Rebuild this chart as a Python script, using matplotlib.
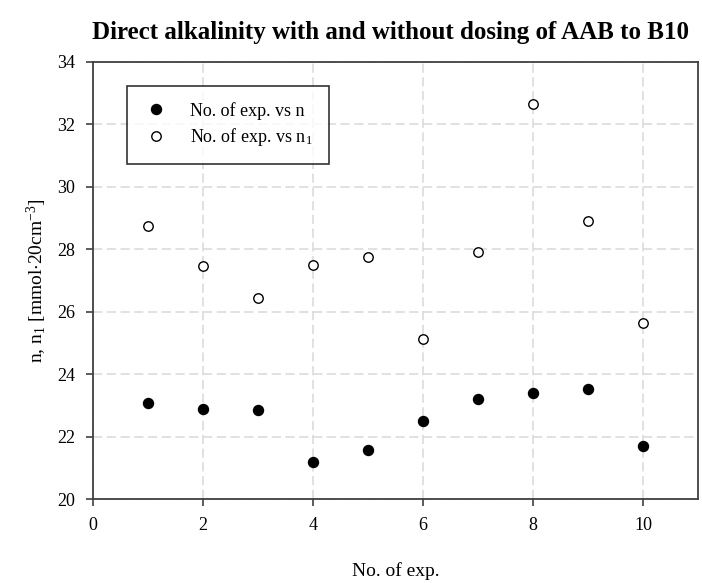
import matplotlib
matplotlib.use("Agg")
import matplotlib.pyplot as plt

# data
exp_no = [1, 2, 3, 4, 5, 6, 7, 8, 9, 10]
n_vals = [23.06, 22.87, 22.85, 21.20, 21.56, 22.50, 23.20, 23.40, 23.54, 21.71]
n1_vals = [28.74, 27.46, 26.45, 27.51, 27.76, 25.13, 27.90, 32.64, 28.91, 25.65]

x_ticks = [0, 2, 4, 6, 8, 10]
y_ticks = [20, 22, 24, 26, 28, 30, 32, 34]

plt.rcParams['font.family'] = ['Liberation Serif', 'DejaVu Serif']
plt.rcParams['mathtext.default'] = 'regular'

fig = plt.figure(figsize=(7.02, 5.83), dpi=100)
ax = fig.add_axes([93/702, 1-499/583, 605/702, 437/583])

ax.plot(exp_no, n_vals, 'o', color='black', markersize=7.2, label='No. of exp. vs n', zorder=3)
ax.plot(exp_no, n1_vals, 'o', markerfacecolor='white', markeredgecolor='black',
        markeredgewidth=1.0, markersize=6.8, label='No. of exp. vs n$_1$', zorder=3)

ax.set_xlim(0, 11)
ax.set_ylim(20, 34)
ax.set_xticks(x_ticks)
ax.set_yticks(y_ticks)
ax.tick_params(direction='out', length=5, width=1.2, color='#404040', labelsize=13, pad=8)
ax.grid(True, color='#d8d8d8', linestyle=(0, (6, 3)), linewidth=1.1)
ax.set_axisbelow(True)
for s in ax.spines.values():
    s.set_color('#404040')
    s.set_linewidth(1.3)

ax.set_xlabel('No. of exp.', fontsize=14, labelpad=20)
ax.set_ylabel('n, n$_1$ [mmol$\\cdot$20cm$^{-3}$]', fontsize=14, labelpad=6)
fig.text(391/702, 1-32/583, 'Direct alkalinity with and without dosing of AAB to B10',
         ha='center', va='center', fontsize=18, fontweight='bold')

leg = ax.legend(loc='upper left', bbox_to_anchor=(0.0557, 0.9458), borderaxespad=0,
                frameon=True, fancybox=False, edgecolor='black', fontsize=13,
                handletextpad=1.1, borderpad=0.9, labelspacing=0.35, handlelength=1.5)
leg.get_frame().set_linewidth(1.2)

fig.savefig('out.png', dpi=100)
